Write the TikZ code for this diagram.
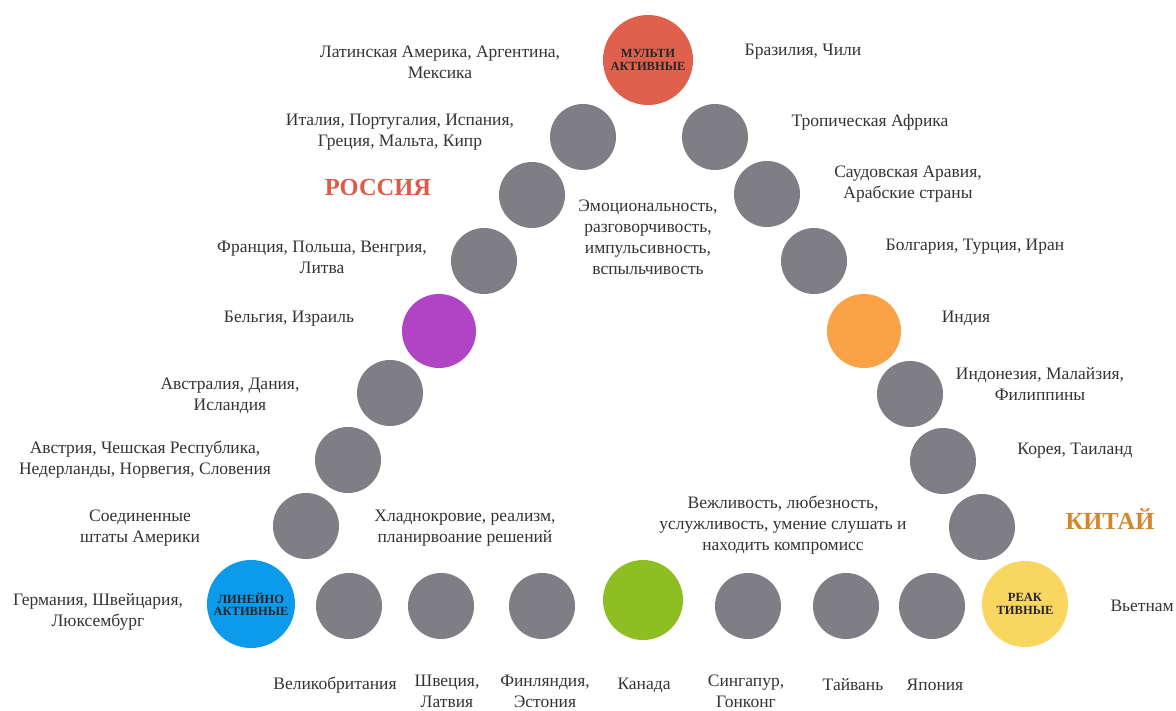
\documentclass[tikz,border=0pt]{standalone}
\usepackage{fontspec}
\setmainfont{Liberation Serif}
\begin{document}
\begin{tikzpicture}[x=1pt,y=-1pt,
  dot/.style={circle,fill=cgray,minimum size=66pt,inner sep=0pt},
  big/.style={circle,minimum size=#1,inner sep=0pt,font=\fontsize{12.5}{12.5}\selectfont\bfseries,text=black!85,align=center},
  lbl/.style={align=center,text=txt,font=\fontsize{17.5}{21}\selectfont,inner sep=0pt},
  head/.style={font=\fontsize{24.5}{26}\selectfont\bfseries,inner sep=0pt}]
\definecolor{cgray}{HTML}{7E7E84}
\definecolor{cred}{HTML}{E0604E}
\definecolor{cpurple}{HTML}{B044C4}
\definecolor{corange}{HTML}{F9A346}
\definecolor{cblue}{HTML}{0C9BEB}
\definecolor{cgreen}{HTML}{8DBF22}
\definecolor{cyellow}{HTML}{F9D660}
\definecolor{russia}{HTML}{E05A4A}
\definecolor{china}{HTML}{D4862A}
\definecolor{txt}{HTML}{333333}
\useasboundingbox (0,0) rectangle (1176,711);
% top
\node[big=90pt,fill=cred] (multi) at (648,60) {МУЛЬТИ\\АКТИВНЫЕ};
% left chain
\node[dot] (l1) at (583,137) {};
\node[dot] (l2) at (532,195) {};
\node[dot] (l3) at (484,261) {};
\node[big=74pt,fill=cpurple] (purple) at (439,331) {};
\node[dot] (l5) at (390,393) {};
\node[dot] (l6) at (348,460) {};
\node[dot] (l7) at (306,526) {};
\node[big=88pt,fill=cblue] (linear) at (251,604) {ЛИНЕЙНО\\АКТИВНЫЕ};
% bottom row
\node[dot] (b1) at (349,606) {};
\node[dot] (b2) at (441,606) {};
\node[dot] (b3) at (542,606) {};
\node[big=80pt,fill=cgreen] (green) at (643,600) {};
\node[dot] (b5) at (748,606) {};
\node[dot] (b6) at (846,606) {};
\node[dot] (b7) at (932,606) {};
\node[big=86pt,fill=cyellow] (react) at (1025,604) {РЕАК\\ТИВНЫЕ};
% right chain
\node[dot] (r1) at (715,137) {};
\node[dot] (r2) at (767,194) {};
\node[dot] (r3) at (814,261) {};
\node[big=74pt,fill=corange] (orange) at (864,331) {};
\node[dot] (r5) at (910,394) {};
\node[dot] (r6) at (943,461) {};
\node[dot] (r7) at (982,527) {};
% labels
\node[lbl] (t1) at (440,62) {Латинская Америка, Аргентина,\\Мексика};
\node[lbl] (t2) at (803,52) {Бразилия, Чили};
\node[lbl] (t3) at (400,132) {Италия, Португалия, Испания,\\Греция, Мальта, Кипр};
\node[lbl] (t4) at (870,122) {Тропическая Африка};
\node[head,text=russia] (ru) at (378,188) {РОССИЯ};
\node[lbl] (t5) at (908,184) {Саудовская Аравия,\\Арабские страны};
\node[lbl] (t6) at (648,237) {Эмоциональность,\\разговорчивость,\\импульсивность,\\вспыльчивость};
\node[lbl] (t7) at (322,257) {Франция, Польша, Венгрия,\\Литва};
\node[lbl] (t8) at (975,247) {Болгария, Турция, Иран};
\node[lbl] (t9) at (289,319) {Бельгия, Израиль};
\node[lbl] (t10) at (966,318) {Индия};
\node[lbl] (t11) at (230,396) {Австралия, Дания,\\Исландия};
\node[lbl] (t12) at (1040,384) {Индонезия, Малайзия,\\Филиппины};
\node[lbl] (t13) at (145,460) {Австрия, Чешская Республика,\\Недерланды, Норвегия, Словения};
\node[lbl] (t14) at (1075,451) {Корея, Таиланд};
\node[lbl] (t15) at (140,528) {Соединенные\\штаты Америки};
\node[lbl] (t16) at (465,528) {Хладнокровие, реализм,\\планирвоание решений};
\node[lbl] (t17) at (783,525) {Вежливость, любезность,\\услужливость, умение слушать и\\находить компромисс};
\node[head,text=china] (cn) at (1110,519) {КИТАЙ};
\node[lbl] (t18) at (98,612) {Германия, Швейцария,\\Люксембург};
\node[lbl,anchor=east] (t19) at (1174,606) {Вьетнам};
\node[lbl] (t20) at (335,685) {Великобритания};
\node[lbl] (t21) at (447,691) {Швеция,\\Латвия};
\node[lbl] (t22) at (545,691) {Финляндия,\\Эстония};
\node[lbl] (t23) at (644,685) {Канада};
\node[lbl] (t24) at (746,691) {Сингапур,\\Гонконг};
\node[lbl] (t25) at (853,685) {Тайвань};
\node[lbl] (t26) at (935,685) {Япония};
\end{tikzpicture}
\end{document}
